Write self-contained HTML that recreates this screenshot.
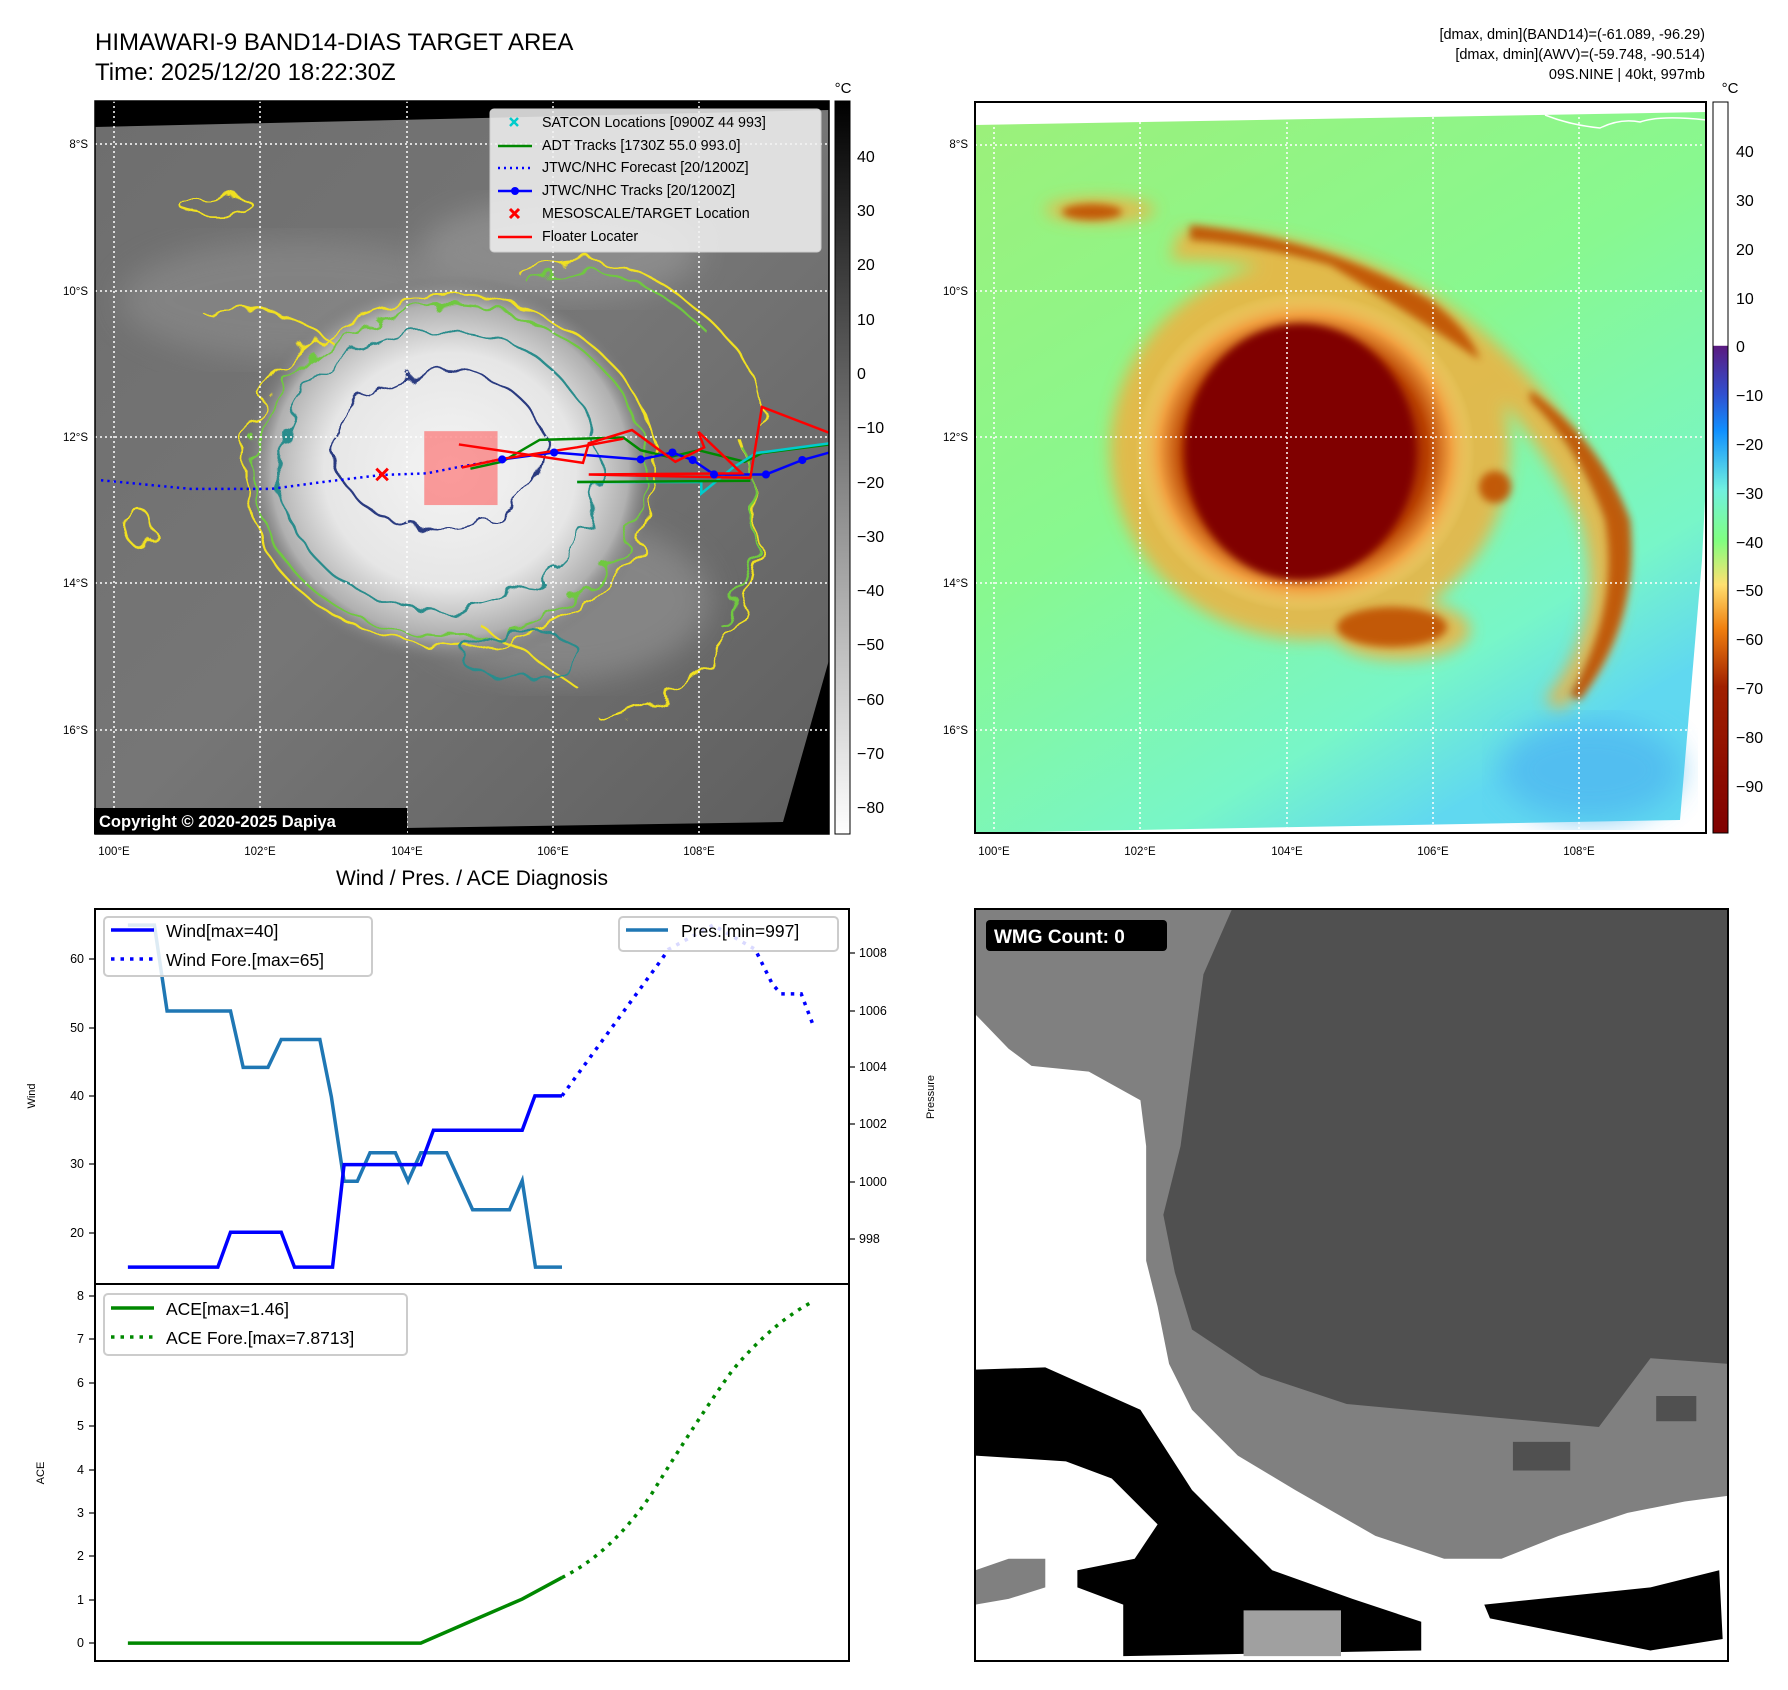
<!DOCTYPE html>
<html><head><meta charset="utf-8"><style>
html,body{margin:0;padding:0;background:#fff;}
svg{display:block;font-family:"Liberation Sans","DejaVu Sans",sans-serif;}
</style></head><body>
<svg width="1788" height="1690" viewBox="0 0 1788 1690" xmlns="http://www.w3.org/2000/svg">
<defs>
<filter id="wob" x="-10%" y="-10%" width="120%" height="120%">
<feTurbulence type="fractalNoise" baseFrequency="0.035" numOctaves="2" seed="3"/>
<feDisplacementMap in="SourceGraphic" scale="28"/>
</filter>
<filter id="wob2" x="-10%" y="-10%" width="120%" height="120%">
<feTurbulence type="fractalNoise" baseFrequency="0.05" numOctaves="2" seed="7"/>
<feDisplacementMap in="SourceGraphic" scale="22"/>
</filter>
<filter id="bl8"><feGaussianBlur stdDeviation="8"/></filter>
<filter id="bl15"><feGaussianBlur stdDeviation="15"/></filter>
<filter id="bl4"><feGaussianBlur stdDeviation="4"/></filter>
<radialGradient id="cw" cx="0.5" cy="0.5" r="0.5">
<stop offset="0" stop-color="#f4f4f4"/><stop offset="0.6" stop-color="#e6e6e6"/><stop offset="0.85" stop-color="#b0b0b0"/><stop offset="1" stop-color="#707070" stop-opacity="0"/>
</radialGradient>
<linearGradient id="gb" x1="0" y1="0" x2="1" y2="1">
<stop offset="0" stop-color="#6e6e6e"/><stop offset="0.5" stop-color="#767676"/><stop offset="1" stop-color="#5e5e5e"/>
</linearGradient>
<linearGradient id="cbl" x1="0" y1="0" x2="0" y2="1">
<stop offset="0" stop-color="#000"/><stop offset="1" stop-color="#fff"/>
</linearGradient>
<linearGradient id="cbr" x1="0" y1="0" x2="0" y2="1">
<stop offset="0" stop-color="#fff"/><stop offset="0.333" stop-color="#fff"/>
<stop offset="0.334" stop-color="#5a1a80"/><stop offset="0.40" stop-color="#3050d0"/><stop offset="0.45" stop-color="#1090ff"/>
<stop offset="0.53" stop-color="#70f0e0"/><stop offset="0.60" stop-color="#80ff80"/><stop offset="0.66" stop-color="#ffe070"/>
<stop offset="0.72" stop-color="#f08010"/><stop offset="0.80" stop-color="#a02000"/><stop offset="1" stop-color="#800000"/>
</linearGradient>
<linearGradient id="rg" x1="0" y1="0" x2="0.6" y2="1">
<stop offset="0" stop-color="#9cf07a"/><stop offset="0.5" stop-color="#88f890"/><stop offset="0.85" stop-color="#78f6c8"/><stop offset="1" stop-color="#60d8f0"/>
</linearGradient>
<radialGradient id="rc" cx="0.5" cy="0.5" r="0.5">
<stop offset="0" stop-color="#800000"/><stop offset="0.55" stop-color="#800000"/><stop offset="0.72" stop-color="#b84000"/><stop offset="0.86" stop-color="#f0a040"/><stop offset="1" stop-color="#f8e080" stop-opacity="0"/>
</radialGradient>
<clipPath id="cl"><rect x="95" y="101" width="734" height="733"/></clipPath>
<clipPath id="cr"><rect x="975" y="102" width="731" height="731"/></clipPath>
</defs>

<!-- Titles -->
<text x="95" y="50" font-size="24">HIMAWARI-9 BAND14-DIAS TARGET AREA</text>
<text x="95" y="80" font-size="24">Time: 2025/12/20 18:22:30Z</text>
<g font-size="14.5" text-anchor="end">
<text x="1705" y="39">[dmax, dmin](BAND14)=(-61.089, -96.29)</text>
<text x="1705" y="59">[dmax, dmin](AWV)=(-59.748, -90.514)</text>
<text x="1705" y="79">09S.NINE | 40kt, 997mb</text>
</g>

<!-- LEFT MAP -->
<rect x="95" y="101" width="734" height="733" fill="#000"/>
<g clip-path="url(#cl)">
<polygon points="95,127 829,110 829,660 783,822 95,833" fill="url(#gb)"/>
<ellipse cx="300" cy="300" rx="180" ry="60" fill="#8a8a8a" filter="url(#bl15)" opacity="0.7"/>
<ellipse cx="560" cy="250" rx="140" ry="50" fill="#959595" filter="url(#bl15)" opacity="0.7"/>
<ellipse cx="560" cy="600" rx="150" ry="80" fill="#909090" filter="url(#bl15)" opacity="0.7"/>
<ellipse cx="450" cy="470" rx="210" ry="195" fill="url(#cw)"/>
<g fill="none" stroke-width="2.2" filter="url(#wob)">
<ellipse cx="450" cy="472" rx="205" ry="175" stroke="#f0e020"/>
<ellipse cx="450" cy="472" rx="195" ry="165" stroke="#70c840"/>
<ellipse cx="440" cy="470" rx="160" ry="140" stroke="#2a8c8c"/>
<ellipse cx="440" cy="450" rx="105" ry="80" stroke="#2a3a80"/>
<path d="M520,275 Q620,230 720,330 Q770,380 760,430" stroke="#f0e020"/>
<path d="M530,285 Q620,245 710,335" stroke="#70c840"/>
<path d="M740,440 Q780,520 730,640 Q700,690 600,720" stroke="#f0e020"/>
<path d="M745,450 Q775,520 725,630" stroke="#70c840"/>
<path d="M480,625 Q540,660 580,690" stroke="#f0e020"/>
<path d="M200,310 Q280,300 330,340" stroke="#f0e020"/>
<ellipse cx="218" cy="207" rx="36" ry="10" stroke="#f0e020"/>
<ellipse cx="138" cy="527" rx="14" ry="18" stroke="#f0e020"/>
<ellipse cx="520" cy="655" rx="60" ry="25" stroke="#2a8c8c"/>
</g>
<g stroke="#fff" stroke-width="1.5" stroke-dasharray="2,3">
<line x1="114" y1="101" x2="114" y2="834"/><line x1="260" y1="101" x2="260" y2="834"/><line x1="407" y1="101" x2="407" y2="834"/><line x1="553" y1="101" x2="553" y2="834"/><line x1="699" y1="101" x2="699" y2="834"/>
<line x1="95" y1="144" x2="829" y2="144"/><line x1="95" y1="291" x2="829" y2="291"/><line x1="95" y1="437" x2="829" y2="437"/><line x1="95" y1="583" x2="829" y2="583"/><line x1="95" y1="730" x2="829" y2="730"/>
</g>
<g transform="scale(0.5772)" fill="none" stroke-width="4.3">
<rect x="735" y="747" width="127" height="128" fill="#ff5050" fill-opacity="0.55" stroke="none"/>
<polyline points="175,832 330,847 470,847 560,835 660,823 740,820 800,808 870,796" stroke="#00f" stroke-dasharray="4,7"/>
<polyline points="815,812 870,800 935,762 1080,758 1110,780 1160,792 1210,780 1290,800 1320,785 1437,770" stroke="#080"/>
<polyline points="1000,835 1215,835 1215,855 1270,810 1310,785 1437,768" stroke="#0cc"/>
<polyline points="1000,835 1300,833" stroke="#080"/>
<polyline points="870,796 960,784 1110,796 1165,784 1200,797 1237,822 1327,822 1390,797 1437,784" stroke="#00f"/>
<polyline points="795,770 1010,802 1020,768 1095,745 1170,800 1220,775 1210,748 1285,820 1020,822 1300,828 1320,705 1437,750" stroke="#f00"/>
<polyline points="800,810 870,795 1000,775 1080,760" stroke="#f00"/>
<g fill="#00f" stroke="none"><circle cx="870" cy="796" r="7"/><circle cx="960" cy="784" r="7"/><circle cx="1110" cy="796" r="7"/><circle cx="1165" cy="784" r="7"/><circle cx="1200" cy="797" r="7"/><circle cx="1237" cy="822" r="7"/><circle cx="1327" cy="822" r="7"/><circle cx="1390" cy="797" r="7"/></g>
<path d="M652,812 L672,832 M672,812 L652,832" stroke="#f00" stroke-width="5"/>
</g>
</g>
<rect x="95" y="101" width="734" height="733" fill="none" stroke="#000" stroke-width="1.5"/>
<rect x="94" y="808" width="313" height="26" fill="#000"/>
<text x="99" y="827" font-size="16.5" font-weight="bold" fill="#fff">Copyright © 2020-2025 Dapiya</text>
<!-- legend -->
<rect x="490" y="109" width="331" height="143" rx="4" fill="#f2f2f2" fill-opacity="0.85" stroke="#ccc"/>
<g font-size="14.3">
<text x="542" y="127">SATCON Locations [0900Z 44 993]</text>
<text x="542" y="150">ADT Tracks [1730Z 55.0 993.0]</text>
<text x="542" y="172">JTWC/NHC Forecast [20/1200Z]</text>
<text x="542" y="195">JTWC/NHC Tracks [20/1200Z]</text>
<text x="542" y="218">MESOSCALE/TARGET Location</text>
<text x="542" y="241">Floater Locater</text>
</g>
<path d="M510,118 L518,126 M518,118 L510,126" stroke="#0cc" stroke-width="2.5"/>
<line x1="498" y1="146" x2="532" y2="146" stroke="#080" stroke-width="2.5"/>
<line x1="498" y1="168" x2="532" y2="168" stroke="#00f" stroke-width="2.5" stroke-dasharray="2,4"/>
<line x1="498" y1="191" x2="532" y2="191" stroke="#00f" stroke-width="2.5"/><circle cx="515" cy="191" r="4" fill="#00f"/>
<path d="M510,209 L519,218 M519,209 L510,218" stroke="#f00" stroke-width="3"/>
<line x1="498" y1="237" x2="532" y2="237" stroke="#f00" stroke-width="2.5"/>
<!-- lat/lon labels left -->
<g font-size="11.5" text-anchor="end">
<text x="88" y="148">8°S</text><text x="88" y="295">10°S</text><text x="88" y="441">12°S</text><text x="88" y="587">14°S</text><text x="88" y="734">16°S</text>
</g>
<g font-size="11.5" text-anchor="middle">
<text x="114" y="855">100°E</text><text x="260" y="855">102°E</text><text x="407" y="855">104°E</text><text x="553" y="855">106°E</text><text x="699" y="855">108°E</text>
</g>
<!-- left colorbar -->
<rect x="835" y="101" width="15" height="733" fill="url(#cbl)" stroke="#000" stroke-width="1"/>
<text x="843" y="93" font-size="15" text-anchor="middle">°C</text>
<g font-size="16">
<text x="857" y="162">40</text><text x="857" y="216">30</text><text x="857" y="270">20</text><text x="857" y="325">10</text><text x="857" y="379">0</text>
<text x="857" y="433">−10</text><text x="857" y="488">−20</text><text x="857" y="542">−30</text><text x="857" y="596">−40</text><text x="857" y="650">−50</text><text x="857" y="705">−60</text><text x="857" y="759">−70</text><text x="857" y="813">−80</text>
</g>

<!-- RIGHT MAP -->
<g clip-path="url(#cr)">
<polygon points="975,125 1706,112 1706,480 1702,560 1680,820 975,833" fill="url(#rg)"/>
<ellipse cx="1590" cy="770" rx="90" ry="50" fill="#50b8f0" filter="url(#bl15)" opacity="0.8"/>
<g filter="url(#bl8)" fill="#f0b040" opacity="0.85">
<ellipse cx="1310" cy="450" rx="200" ry="190"/>
<path d="M1180,230 Q1330,230 1440,300 Q1560,380 1620,520 Q1640,640 1560,710 L1545,700 Q1610,620 1580,520 Q1520,400 1420,320 Q1320,260 1170,260 Z"/>
<ellipse cx="1100" cy="210" rx="55" ry="12"/>
<ellipse cx="1400" cy="630" rx="70" ry="30"/>
</g>
<g filter="url(#bl4)" fill="#c05000" opacity="0.9">
<path d="M1190,225 Q1330,240 1430,300 Q1470,330 1480,360 Q1420,320 1330,265 Q1260,245 1190,240 Z"/>
<path d="M1530,390 Q1600,440 1630,520 Q1640,620 1580,700 L1570,695 Q1620,610 1605,520 Q1580,450 1530,400 Z"/>
<ellipse cx="1392" cy="627" rx="55" ry="20"/>
<ellipse cx="1092" cy="212" rx="30" ry="8"/>
<ellipse cx="1495" cy="487" rx="16" ry="16"/>
</g>
<ellipse cx="1305" cy="452" rx="170" ry="160" fill="url(#rc)"/>
<ellipse cx="1300" cy="452" rx="115" ry="128" fill="#800000" filter="url(#bl4)"/>
<g stroke="#fff" stroke-width="1.5" stroke-dasharray="2,3">
<line x1="994" y1="102" x2="994" y2="833"/><line x1="1140" y1="102" x2="1140" y2="833"/><line x1="1287" y1="102" x2="1287" y2="833"/><line x1="1433" y1="102" x2="1433" y2="833"/><line x1="1579" y1="102" x2="1579" y2="833"/>
<line x1="975" y1="145" x2="1706" y2="145"/><line x1="975" y1="291" x2="1706" y2="291"/><line x1="975" y1="437" x2="1706" y2="437"/><line x1="975" y1="583" x2="1706" y2="583"/><line x1="975" y1="730" x2="1706" y2="730"/>
</g>
<path d="M1545,115 Q1570,125 1600,128 Q1620,118 1640,122 Q1660,115 1706,120" fill="none" stroke="#fff" stroke-width="1.5"/>
</g>
<rect x="975" y="102" width="731" height="731" fill="none" stroke="#000" stroke-width="2"/>
<g font-size="11.5" text-anchor="end">
<text x="968" y="148">8°S</text><text x="968" y="295">10°S</text><text x="968" y="441">12°S</text><text x="968" y="587">14°S</text><text x="968" y="734">16°S</text>
</g>
<g font-size="11.5" text-anchor="middle">
<text x="994" y="855">100°E</text><text x="1140" y="855">102°E</text><text x="1287" y="855">104°E</text><text x="1433" y="855">106°E</text><text x="1579" y="855">108°E</text>
</g>
<rect x="1713" y="102" width="15" height="731" fill="url(#cbr)" stroke="#000" stroke-width="1"/>
<text x="1730" y="93" font-size="15" text-anchor="middle">°C</text>
<g font-size="16">
<text x="1736" y="157">40</text><text x="1736" y="206">30</text><text x="1736" y="255">20</text><text x="1736" y="304">10</text><text x="1736" y="352">0</text>
<text x="1736" y="401">−10</text><text x="1736" y="450">−20</text><text x="1736" y="499">−30</text><text x="1736" y="548">−40</text><text x="1736" y="596">−50</text><text x="1736" y="645">−60</text><text x="1736" y="694">−70</text><text x="1736" y="743">−80</text><text x="1736" y="792">−90</text>
</g>

<!-- BOTTOM LEFT charts -->
<text x="472" y="885" font-size="21" text-anchor="middle">Wind / Pres. / ACE Diagnosis</text>
<g transform="translate(-0.1,855.3) scale(0.5765,0.537)" fill="none" stroke-linejoin="miter">
<polyline vector-effect="non-scaling-stroke" stroke-width="3.5" stroke="#1f77b4" points="222,130 268,130 290,290 400,290 422,395 465,395 488,343 555,343 575,450 597,607 620,607 642,554 686,554 708,607 730,554 775,554 820,660 884,660 906,606 929,767 975,767"/>
<polyline vector-effect="non-scaling-stroke" stroke-width="3.5" stroke="#00f" points="222,767 378,767 400,702 488,702 511,767 577,767 597,576 730,576 752,512 906,512 928,448 975,448"/>
<polyline vector-effect="non-scaling-stroke" stroke-width="3.5" stroke="#00f" stroke-dasharray="3.5,6" points="975,448 1147,195 1160,175 1237,130 1310,175 1340,240 1355,258 1390,258 1412,320"/>
<path vector-effect="non-scaling-stroke" stroke-width="3.5" stroke="#080" d="M222,1467 L730,1467 L820,1425 L906,1385 L975,1345"/>
<path vector-effect="non-scaling-stroke" stroke-width="3.5" stroke="#080" stroke-dasharray="3.5,6" d="M975,1345 Q1060,1300 1130,1190 Q1210,1050 1270,960 Q1340,870 1412,830"/>
</g>
<rect x="95" y="909" width="754" height="752" fill="none" stroke="#000" stroke-width="2"/>
<line x1="95" y1="1284" x2="849" y2="1284" stroke="#000" stroke-width="2"/>
<!-- wind ticks -->
<g stroke="#000" stroke-width="1.2">
<line x1="89" y1="959" x2="95" y2="959"/><line x1="89" y1="1028" x2="95" y2="1028"/><line x1="89" y1="1096" x2="95" y2="1096"/><line x1="89" y1="1164" x2="95" y2="1164"/><line x1="89" y1="1233" x2="95" y2="1233"/>
<line x1="849" y1="953" x2="855" y2="953"/><line x1="849" y1="1011" x2="855" y2="1011"/><line x1="849" y1="1067" x2="855" y2="1067"/><line x1="849" y1="1124" x2="855" y2="1124"/><line x1="849" y1="1182" x2="855" y2="1182"/><line x1="849" y1="1239" x2="855" y2="1239"/>
<line x1="89" y1="1296" x2="95" y2="1296"/><line x1="89" y1="1339" x2="95" y2="1339"/><line x1="89" y1="1383" x2="95" y2="1383"/><line x1="89" y1="1426" x2="95" y2="1426"/><line x1="89" y1="1470" x2="95" y2="1470"/><line x1="89" y1="1513" x2="95" y2="1513"/><line x1="89" y1="1556" x2="95" y2="1556"/><line x1="89" y1="1600" x2="95" y2="1600"/><line x1="89" y1="1643" x2="95" y2="1643"/>
</g>
<g font-size="12.5" text-anchor="end">
<text x="84" y="963">60</text><text x="84" y="1032">50</text><text x="84" y="1100">40</text><text x="84" y="1168">30</text><text x="84" y="1237">20</text>
<text x="84" y="1300">8</text><text x="84" y="1343">7</text><text x="84" y="1387">6</text><text x="84" y="1430">5</text><text x="84" y="1474">4</text><text x="84" y="1517">3</text><text x="84" y="1560">2</text><text x="84" y="1604">1</text><text x="84" y="1647">0</text>
</g>
<g font-size="12.5">
<text x="859" y="957">1008</text><text x="859" y="1015">1006</text><text x="859" y="1071">1004</text><text x="859" y="1128">1002</text><text x="859" y="1186">1000</text><text x="859" y="1243">998</text>
</g>
<text transform="translate(35,1096) rotate(-90)" font-size="11" text-anchor="middle">Wind</text>
<text transform="translate(934,1097) rotate(-90)" font-size="11" text-anchor="middle">Pressure</text>
<text transform="translate(44,1473) rotate(-90)" font-size="11" text-anchor="middle">ACE</text>
<!-- chart legends -->
<rect x="104" y="917" width="268" height="59" rx="4" fill="#fff" fill-opacity="0.85" stroke="#ccc" stroke-width="2"/>
<line x1="111" y1="930" x2="154" y2="930" stroke="#00f" stroke-width="3.5"/>
<line x1="111" y1="959" x2="154" y2="959" stroke="#00f" stroke-width="3.5" stroke-dasharray="3.5,6"/>
<text x="166" y="937" font-size="17.5">Wind[max=40]</text>
<text x="166" y="966" font-size="17.5">Wind Fore.[max=65]</text>
<rect x="619" y="917" width="219" height="34" rx="4" fill="#fff" fill-opacity="0.85" stroke="#ccc" stroke-width="2"/>
<line x1="626" y1="930" x2="668" y2="930" stroke="#1f77b4" stroke-width="3.5"/>
<text x="681" y="937" font-size="17.5">Pres.[min=997]</text>
<rect x="104" y="1294" width="303" height="61" rx="4" fill="#fff" fill-opacity="0.85" stroke="#ccc" stroke-width="2"/>
<line x1="111" y1="1308" x2="154" y2="1308" stroke="#080" stroke-width="3.5"/>
<line x1="111" y1="1337" x2="154" y2="1337" stroke="#080" stroke-width="3.5" stroke-dasharray="3.5,6"/>
<text x="166" y="1315" font-size="17.5">ACE[max=1.46]</text>
<text x="166" y="1344" font-size="17.5">ACE Fore.[max=7.8713]</text>

<!-- BOTTOM RIGHT WMG -->
<rect x="975" y="909" width="753" height="752" fill="#fff"/>
<g transform="scale(1.14615)">
<polygon fill="#808080" points="851,793 1075,793 1508,793 1508,1305 1470,1310 1420,1320 1360,1340 1310,1360 1260,1360 1200,1340 1130,1300 1080,1270 1040,1230 1020,1190 1010,1140 1000,1100 1000,1000 995,960 950,935 900,930 880,915 851,885"/>
<polygon fill="#505050" points="1075,793 1508,793 1508,1190 1440,1185 1395,1245 1175,1225 1100,1200 1040,1160 1025,1110 1015,1060 1030,1000 1050,850"/>
<polygon fill="#000" points="851,1195 912,1193 995,1230 1040,1300 1080,1340 1110,1370 1180,1395 1240,1415 1240,1440 980,1445 980,1400 940,1385 940,1370 990,1360 1010,1330 970,1290 930,1275 851,1270"/>
<polygon fill="#000" points="1295,1400 1440,1385 1500,1370 1503,1430 1440,1440 1300,1412"/>
<polygon fill="#a0a0a0" points="1085,1405 1170,1405 1170,1445 1085,1445"/>
<polygon fill="#808080" points="851,1370 880,1360 912,1360 912,1385 880,1395 851,1400"/>
<rect x="943" y="848" width="18" height="22" fill="#808080"/>
<rect x="1005" y="885" width="18" height="22" fill="#808080"/>
<rect x="1320" y="1258" width="50" height="25" fill="#505050"/>
<rect x="1445" y="1218" width="35" height="22" fill="#505050"/>
</g>
<rect x="975" y="909" width="753" height="752" fill="none" stroke="#000" stroke-width="2"/>
<rect x="986" y="920" width="181" height="31" rx="4" fill="#000"/>
<text x="994" y="943" font-size="19" font-weight="bold" fill="#fff">WMG Count: 0</text>
</svg>
</body></html>
